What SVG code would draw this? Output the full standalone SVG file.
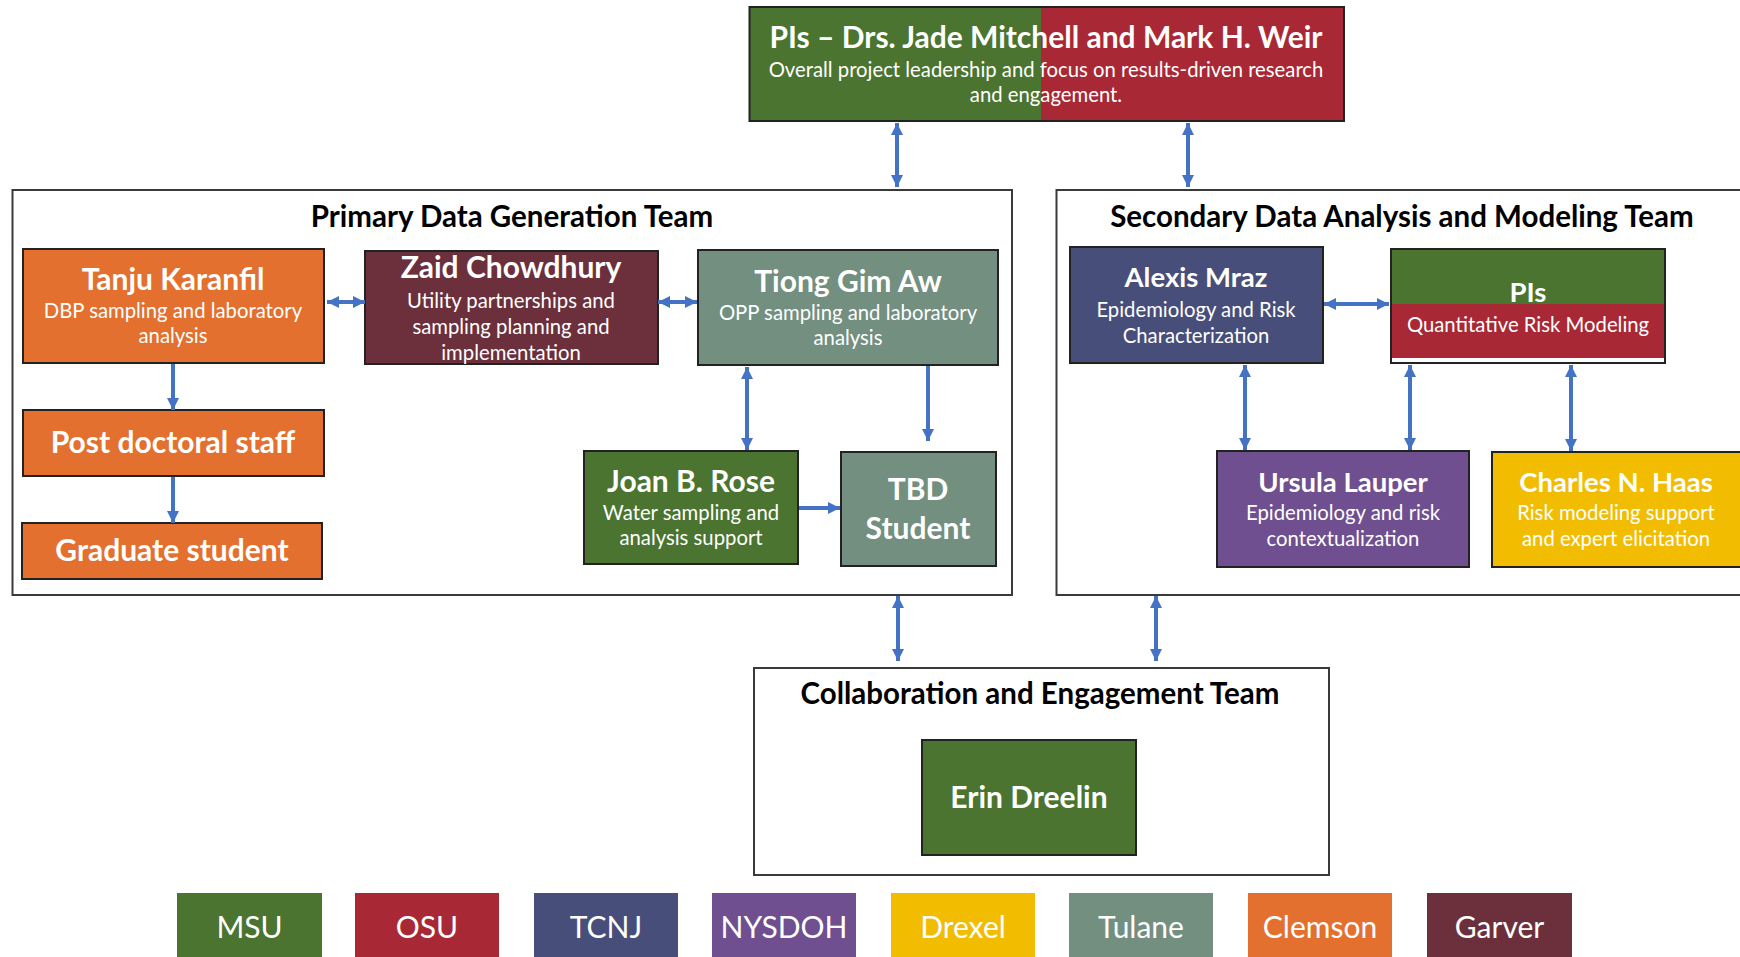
<svg xmlns="http://www.w3.org/2000/svg" width="1740" height="957" viewBox="0 0 1740 957">
<style>
text{font-family:Lato,"Open Sans","Liberation Sans",sans-serif;text-anchor:middle}
.t{fill:#fff;font-weight:700;font-size:30px}
.t2{fill:#fff;font-weight:700;font-size:27.5px}
.s{fill:#fff;font-size:20.3px}
.h{fill:#000;font-weight:700;font-size:29.5px}
.team{fill:#fff;stroke:#3a3a3a;stroke-width:2}
.n{stroke:#222;stroke-width:2}
.g{fill:#4A7430}.r{fill:#A92835}.nv{fill:#474E7A}.p{fill:#6F4F8F}.y{fill:#F2BD00}.tu{fill:#728F7F}.o{fill:#E3702E}.m{fill:#6C303D}
.c line{stroke:#4472C4;stroke-width:4;fill:none}
.lg{fill:#fff;font-size:30px}
</style>
<defs>
<marker id="ah" viewBox="0 0 10 10" refX="10" refY="5" markerWidth="12" markerHeight="12" markerUnits="userSpaceOnUse" orient="auto-start-reverse">
<path d="M0,0 L10,5 L0,10 z" fill="#4472C4"/>
</marker>
</defs>

<g id="team-primary"><rect class="team" x="12.5" y="190" width="999.5" height="405"/><text class="h" x="512" y="227">Primary Data Generation Team</text></g>
<g id="team-secondary"><rect class="team" x="1056.5" y="190" width="700" height="405"/><text class="h" x="1402" y="227">Secondary Data Analysis and Modeling Team</text></g>
<g id="team-collab"><rect class="team" x="754" y="668" width="575" height="207"/><text class="h" x="1040" y="704">Collaboration and Engagement Team</text></g>

<g id="pis-top">
<rect class="g" x="749.5" y="7" width="292" height="114"/>
<rect class="r" x="1041" y="7" width="303" height="114"/>
<rect x="749.5" y="7" width="594.5" height="114" fill="none" stroke="#222" stroke-width="2"/>
<text class="t" x="1046" y="48" font-size="28.5">PIs – Drs. Jade Mitchell and Mark H. Weir</text>
<text class="s" x="1046" y="77" font-size="21.5">Overall project leadership and focus on results-driven research</text>
<text class="s" x="1046" y="102" font-size="21.5">and engagement.</text>
</g>

<g id="tanju"><rect class="n o" x="23" y="249" width="301" height="114"/>
<text class="t" x="173" y="290">Tanju Karanfil</text>
<text class="s" x="173" y="318">DBP sampling and laboratory</text><text class="s" x="173" y="343">analysis</text></g>

<g id="zaid"><rect class="n m" x="365" y="251" width="293" height="113"/>
<text class="t" x="511" y="278" font-size="28.7">Zaid Chowdhury</text>
<text class="s" x="511" y="308">Utility partnerships and</text><text class="s" x="511" y="334">sampling planning and</text><text class="s" x="511" y="360">implementation</text></g>

<g id="tiong"><rect class="n tu" x="698" y="250" width="300" height="115"/>
<text class="t" x="848" y="292">Tiong Gim Aw</text>
<text class="s" x="848" y="320">OPP sampling and laboratory</text><text class="s" x="848" y="345">analysis</text></g>

<g id="postdoc"><rect class="n o" x="23" y="410" width="301" height="66"/>
<text class="t" x="173" y="453">Post doctoral staff</text></g>

<g id="grad"><rect class="n o" x="22" y="523" width="300" height="56"/>
<text class="t" x="172" y="561">Graduate student</text></g>

<g id="joan"><rect class="n g" x="584" y="451" width="214" height="113"/>
<text class="t" x="691" y="492" font-size="29.4">Joan B. Rose</text>
<text class="s" x="691" y="520">Water sampling and</text><text class="s" x="691" y="545">analysis support</text></g>

<g id="tbd"><rect class="n tu" x="841" y="452" width="155" height="114"/>
<text class="t" x="918" y="500">TBD</text><text class="t" x="918" y="539">Student</text></g>

<g id="alexis"><rect class="n nv" x="1070" y="247" width="253" height="116"/>
<text class="t2" x="1196" y="287">Alexis Mraz</text>
<text class="s" x="1196" y="317">Epidemiology and Risk</text><text class="s" x="1196" y="343">Characterization</text></g>

<g id="pis-model">
<rect class="g" x="1391" y="249" width="274" height="55"/>
<rect class="r" x="1391" y="304" width="274" height="54"/>
<rect x="1391" y="249" width="274" height="114" fill="none" stroke="#222" stroke-width="2"/>
<text class="t2" x="1528" y="302">PIs</text>
<text class="s" x="1528" y="332">Quantitative Risk Modeling</text></g>

<g id="ursula"><rect class="n p" x="1217" y="451" width="252" height="116"/>
<text class="t2" x="1343" y="492" font-size="27.8">Ursula Lauper</text>
<text class="s" x="1343" y="520">Epidemiology and risk</text><text class="s" x="1343" y="546">contextualization</text></g>

<g id="charles"><rect class="n y" x="1492" y="452" width="252" height="115"/>
<text class="t2" x="1616" y="492">Charles N. Haas</text>
<text class="s" x="1616" y="520">Risk modeling support</text><text class="s" x="1616" y="546">and expert elicitation</text></g>

<g id="erin"><rect class="n g" x="922" y="740" width="214" height="115"/>
<text class="t" x="1029" y="808" font-size="29.4">Erin Dreelin</text></g>

<g id="connectors" class="c">
<line x1="897" y1="123" x2="897" y2="187" marker-start="url(#ah)" marker-end="url(#ah)"/>
<line x1="1188" y1="123" x2="1188" y2="187" marker-start="url(#ah)" marker-end="url(#ah)"/>
<line x1="327" y1="302" x2="365" y2="302" marker-start="url(#ah)" marker-end="url(#ah)"/>
<line x1="658" y1="302" x2="697" y2="302" marker-start="url(#ah)" marker-end="url(#ah)"/>
<line x1="173" y1="364" x2="173" y2="410" marker-end="url(#ah)"/>
<line x1="173" y1="477" x2="173" y2="523" marker-end="url(#ah)"/>
<line x1="747" y1="367" x2="747" y2="450" marker-start="url(#ah)" marker-end="url(#ah)"/>
<line x1="928" y1="366" x2="928" y2="441" marker-end="url(#ah)"/>
<line x1="799" y1="508" x2="840" y2="508" marker-end="url(#ah)"/>
<line x1="1324" y1="304" x2="1389" y2="304" marker-start="url(#ah)" marker-end="url(#ah)"/>
<line x1="1245" y1="365" x2="1245" y2="450" marker-start="url(#ah)" marker-end="url(#ah)"/>
<line x1="1410" y1="365" x2="1410" y2="450" marker-start="url(#ah)" marker-end="url(#ah)"/>
<line x1="1571" y1="365" x2="1571" y2="451" marker-start="url(#ah)" marker-end="url(#ah)"/>
<line x1="898" y1="596" x2="898" y2="661" marker-start="url(#ah)" marker-end="url(#ah)"/>
<line x1="1156" y1="596" x2="1156" y2="661" marker-start="url(#ah)" marker-end="url(#ah)"/>
</g>

<g id="legend">
<rect class="g" x="177" y="893" width="145" height="70"/><text class="lg" x="249.5" y="938">MSU</text>
<rect class="r" x="355" y="893" width="144" height="70"/><text class="lg" x="427" y="938">OSU</text>
<rect class="nv" x="534" y="893" width="144" height="70"/><text class="lg" x="606" y="938">TCNJ</text>
<rect class="p" x="712" y="893" width="144" height="70"/><text class="lg" x="784" y="938" font-size="28">NYSDOH</text>
<rect class="y" x="891" y="893" width="144" height="70"/><text class="lg" x="963" y="938">Drexel</text>
<rect class="tu" x="1069" y="893" width="144" height="70"/><text class="lg" x="1141" y="938">Tulane</text>
<rect class="o" x="1248" y="893" width="144" height="70"/><text class="lg" x="1320" y="938">Clemson</text>
<rect class="m" x="1427" y="893" width="145" height="70"/><text class="lg" x="1499.5" y="938">Garver</text>
</g>
</svg>
